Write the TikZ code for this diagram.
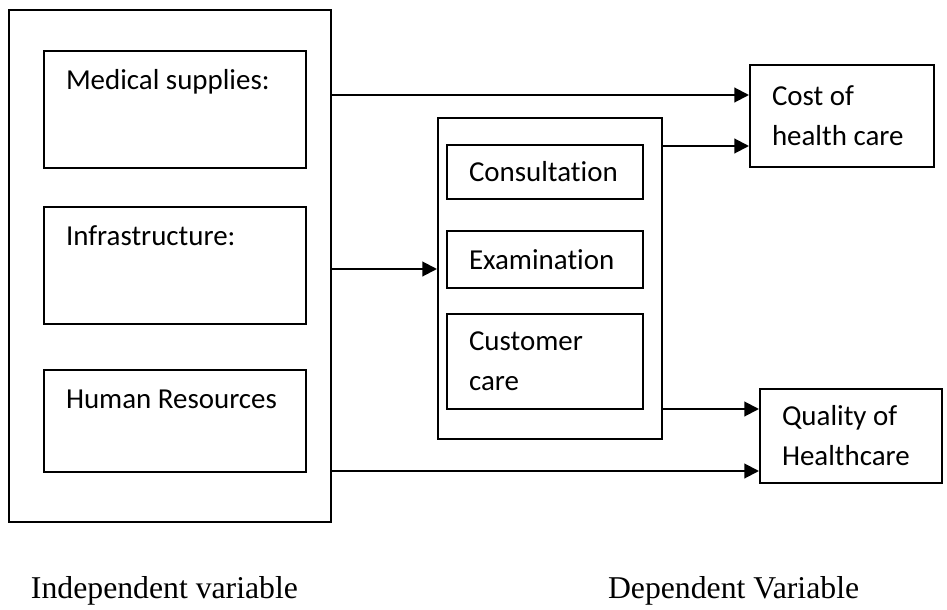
\documentclass[tikz,border=0pt]{standalone}
\usepackage{fontspec}
\setmainfont{Liberation Serif}
\newfontfamily\calibri[Ligatures=NoCommon]{Carlito}
\usetikzlibrary{arrows.meta}
\usetikzlibrary{positioning}

\begin{document}
\begin{tikzpicture}[->,>={Triangle[length=11pt,width=11pt]},x=0.75pt,y=-0.75pt,
	       line width=1.5pt,
	       box/.style={rectangle, draw, anchor=north west, inner sep=0pt,
	         font=\calibri\fontsize{21.7}{30}\selectfont},
	       top box/.style={box, inner xsep=16.5pt, text width=163.5pt, align=flush left, text height=28.9pt},
	       mid box/.style={box, inner xsep=16.5pt, text width=114pt, align=flush left},
	       caption/.style={anchor=base west, inner sep=0pt, font=\fontsize{23.8}{28}\selectfont}]

	      \useasboundingbox (0,0) rectangle (947,610);

	      % independent side
	      \node[box, minimum width=241.5pt, minimum height=384pt] at (8,9) (1) {};
	      \node[top box, text depth=58.9pt] at (43,50) (2) {Medical supplies:};
	      \node[top box, text depth=58.9pt] at (43,206) (3) {Infrastructure:};
	      \node[top box, text depth=47.6pt] at (43,369) (4) {Human Resources};

	      % services
	      \node[box, minimum width=168pt, minimum height=240.75pt] at (437,117) (5) {};
	      \node[mid box, minimum height=40.5pt] at (446,144) (6) {Consultation};
	      \node[mid box, minimum height=42.75pt] at (446,230) (7) {Examination};
	      \node[mid box, minimum height=71.25pt] at (446,313) (8) {Customer\\ care};

	      % dependent side
	      \node[box, inner xsep=16.5pt, text width=105pt, align=flush left, minimum height=76.5pt] at (749,64) (9) {Cost of\\ health care};
	      \node[box, inner xsep=16.5pt, text width=103.5pt, align=flush left, minimum height=70.5pt] at (759,388) (10) {Quality of\\ Healthcare};

	      \node[caption] at (30,598) (11) {Independent variable};
	      \node[caption] at (607,598) (12) {Dependent Variable};

	      \coordinate (a) at ([yshift=15.75pt]9.west);
	      \coordinate (b) at ([yshift=-22.5pt]9.west);
	      \coordinate (c) at ([yshift=7.125pt]5.west);
	      \coordinate (d) at ([yshift=20.25pt]10.west);
	      \coordinate (e) at ([yshift=-26.25pt]10.west);
	      \path
	      (1.east |- a) edge (a)
	      (5.east |- b) edge (b)
	      (1.east |- c) edge (c)
	      (5.east |- d) edge (d)
	      (1.east |- e) edge (e)
	      ;

	    \end{tikzpicture}
\end{document}
